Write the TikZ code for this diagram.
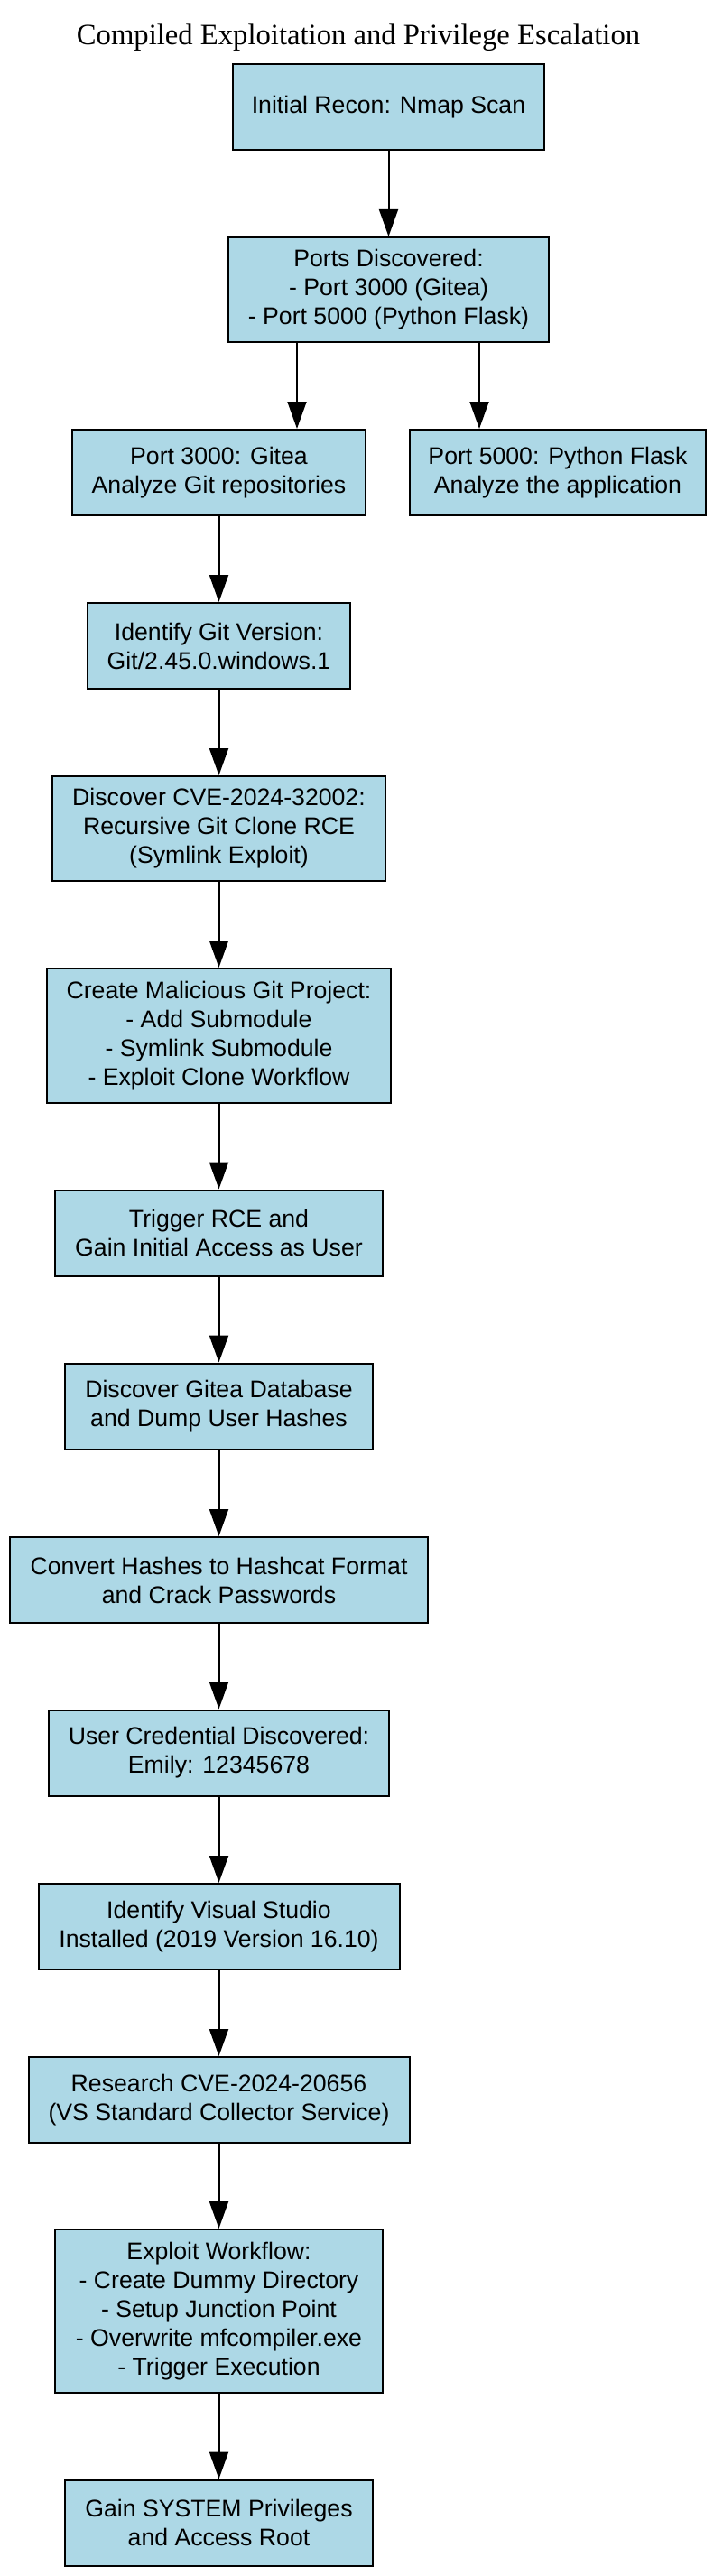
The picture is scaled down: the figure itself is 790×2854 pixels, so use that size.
\documentclass[tikz,border=0pt]{standalone}
\usepackage{fontspec}
\setmainfont{Liberation Sans}
\newfontfamily\titlefont{Liberation Serif}
\usetikzlibrary{arrows.meta}
\definecolor{boxblue}{HTML}{ADD8E6}
\begin{document}
\begin{tikzpicture}[x=0.75pt,y=-0.75pt,
  stepbox/.style={draw=black, fill=boxblue, line width=1.5pt, inner sep=0pt, align=center, font=\fontsize{20}{24}\selectfont},
  sz/.style 2 args={minimum width={(#1-2)*0.75pt}, minimum height={(#2-2)*0.75pt}},
  arr/.style={line width=1.5pt, -{Triangle[length=22.5pt,width=15.75pt]}}]
\useasboundingbox (0,0) rectangle (790,2854);
\node[font=\titlefont\fontsize{24.5}{29}\selectfont, anchor=base, inner sep=0pt] (title) at (397,50) {Compiled Exploitation and Privilege Escalation};

\node[stepbox, sz={347}{97}] (n1) at (430.5,118.5) {Initial Recon: Nmap Scan};
\node[stepbox, sz={357}{118}] (n2) at (430.5,321) {Ports Discovered:\\- Port 3000 (Gitea)\\- Port 5000 (Python Flask)};
\node[stepbox, sz={327}{97}] (n3) at (242.5,523.5) {Port 3000: Gitea\\Analyze Git repositories};
\node[stepbox, sz={330}{97}] (n4) at (618,523.5) {Port 5000: Python Flask\\Analyze the application};
\node[stepbox, sz={293}{97}] (n5) at (242.5,715.5) {Identify Git Version:\\Git/2.45.0.windows.1};
\node[stepbox, sz={371}{118}] (n6) at (242.5,918) {Discover CVE-2024-32002:\\Recursive Git Clone RCE\\(Symlink Exploit)};
\node[stepbox, sz={383}{151}] (n7) at (242.5,1147.5) {Create Malicious Git Project:\\- Add Submodule\\- Symlink Submodule\\- Exploit Clone Workflow};
\node[stepbox, sz={365}{97}] (n8) at (242.5,1366) {Trigger RCE and\\Gain Initial Access as User};
\node[stepbox, sz={343}{97}] (n9) at (242.5,1558) {Discover Gitea Database\\and Dump User Hashes};
\node[stepbox, sz={465}{97}] (n10) at (242.5,1750.5) {Convert Hashes to Hashcat Format\\and Crack Passwords};
\node[stepbox, sz={379}{97}] (n11) at (242.5,1942) {User Credential Discovered:\\Emily: 12345678};
\node[stepbox, sz={402}{97}] (n12) at (242.5,2134.5) {Identify Visual Studio\\Installed (2019 Version 16.10)};
\node[stepbox, sz={424}{97}] (n13) at (242.5,2326.5) {Research CVE-2024-20656\\(VS Standard Collector Service)};
\node[stepbox, sz={365}{183}] (n14) at (242.5,2560.5) {Exploit Workflow:\\- Create Dummy Directory\\- Setup Junction Point\\- Overwrite mfcompiler.exe\\- Trigger Execution};
\node[stepbox, sz={343}{97}] (n15) at (242.5,2795) {Gain SYSTEM Privileges\\and Access Root};

\coordinate (xa) at (329,0);
\coordinate (xb) at (531,0);

\draw[arr] (n1) -- (n2);
\draw[arr] (n2.south -| xa) -- (n3.north -| xa);
\draw[arr] (n2.south -| xb) -- (n4.north -| xb);
\draw[arr] (n3) -- (n5);
\draw[arr] (n5) -- (n6);
\draw[arr] (n6) -- (n7);
\draw[arr] (n7) -- (n8);
\draw[arr] (n8) -- (n9);
\draw[arr] (n9) -- (n10);
\draw[arr] (n10) -- (n11);
\draw[arr] (n11) -- (n12);
\draw[arr] (n12) -- (n13);
\draw[arr] (n13) -- (n14);
\draw[arr] (n14) -- (n15);
\end{tikzpicture}
\end{document}
